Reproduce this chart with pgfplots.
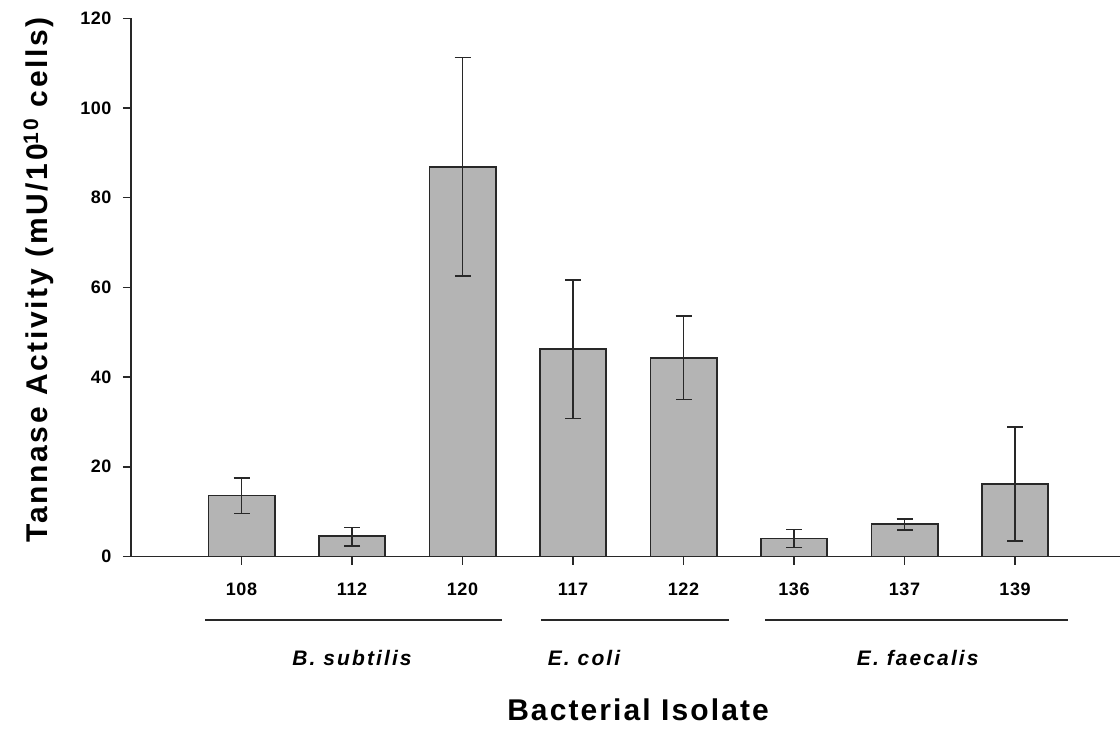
\documentclass[border=0pt]{standalone}
\usepackage{pgfplots}
\pgfplotsset{compat=1.18}
\usepackage{fontspec}
\setmainfont{Liberation Sans}
\definecolor{barfill}{RGB}{180,180,180}
\definecolor{edge}{RGB}{40,40,40}
\pgfplotstableread{
x y ep em
0 13.6 3.9 4.0
1 4.5 2.0 2.1
2 86.9 24.4 24.4
3 46.2 15.5 15.4
4 44.3 9.3 9.3
5 4.0 2.0 2.0
6 7.2 1.2 1.3
7 16.2 12.7 12.8
}\datatable
\begin{document}
\begin{tikzpicture}
\useasboundingbox (-131pt,-172.5pt) rectangle (989pt,556.5pt);
\begin{axis}[
  at={(0pt,0pt)}, anchor=south west,
  scale only axis, width=989pt, height=538.2pt,
  xmin=-1, xmax=7.95, ymin=0, ymax=120,
  axis x line*=bottom, axis y line*=left,
  xtick={0,...,7}, xticklabels={108,112,120,117,122,136,137,139},
  ytick={0,20,...,120},
  tick align=outside, major tick length=8pt,
  tick style={line width=1.4pt, edge},
  axis line style={line width=1.7pt, edge},
  /pgf/number format/assume math mode=true,
  ticklabel style={font=\fontsize{18}{21}\selectfont\bfseries\addfontfeature{LetterSpace=3}},
  xticklabel style={yshift=-15pt},
  yticklabel style={xshift=-8pt},
  clip=false,
  ylabel={Tannase Activity (mU/10\textsuperscript{10} cells)},
  ylabel style={at={(axis description cs:-0.0849,0.514)}, anchor=base, rotate=0,
    font=\fontsize{30}{34}\selectfont\bfseries\addfontfeature{LetterSpace=9}},
  xlabel={Bacterial Isolate},
  xlabel style={at={(axis description cs:0.5127,-0.305)}, anchor=base,
    font=\fontsize{30}{34}\selectfont\bfseries\addfontfeature{LetterSpace=7}},
]
\addplot[ybar, bar width=0.6, fill=barfill, draw=edge, line width=1.7pt,
  error bars/.cd, y dir=both, y explicit,
  error bar style={line width=1.6pt, edge},
  error mark options={rotate=90, mark size=8pt, line width=1.6pt, edge}]
  table[x=x, y=y, y error plus=ep, y error minus=em] {\datatable};
\draw[line width=2pt, edge] (axis cs:-0.33,-14.2) -- (axis cs:2.36,-14.2);
\draw[line width=2pt, edge] (axis cs:2.71,-14.2) -- (axis cs:4.41,-14.2);
\draw[line width=2pt, edge] (axis cs:4.74,-14.2) -- (axis cs:7.48,-14.2);
\node[anchor=base, font=\fontsize{21}{24}\selectfont\bfseries\itshape\addfontfeature{LetterSpace=10}] at (axis cs:1.0,-24.2) {B. subtilis};
\node[anchor=base, font=\fontsize{21}{24}\selectfont\bfseries\itshape\addfontfeature{LetterSpace=10}] at (axis cs:3.1,-24.2) {E. coli};
\node[anchor=base, font=\fontsize{21}{24}\selectfont\bfseries\itshape\addfontfeature{LetterSpace=10}] at (axis cs:6.12,-24.2) {E. faecalis};
\end{axis}
\end{tikzpicture}
\end{document}
